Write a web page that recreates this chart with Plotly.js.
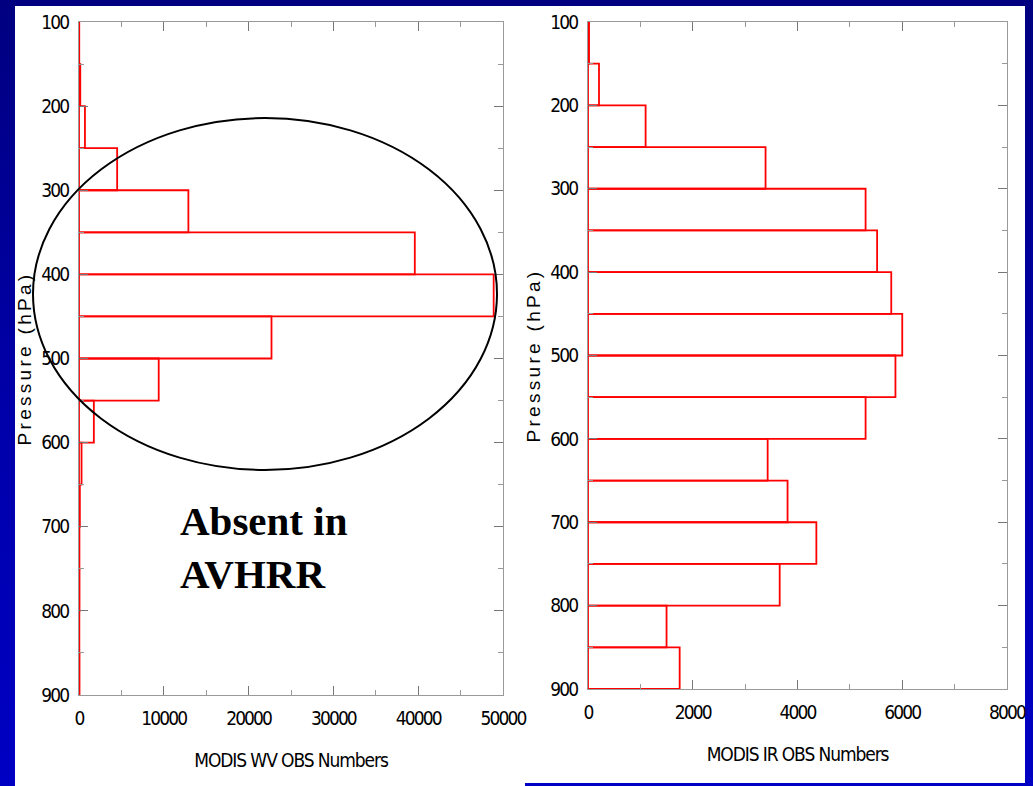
<!DOCTYPE html>
<html>
<head>
<meta charset="utf-8">
<script src="https://cdn.plot.ly/plotly-3.0.1.min.js"></script>
<style>
  html, body { margin: 0; padding: 0; }
  body { width: 1033px; height: 786px; overflow: hidden;
         background: linear-gradient(to bottom, #000080 0%, #0000a8 50%, #0000c4 100%); }
  #chart { width: 1033px; height: 786px; }
  .xtick text, .x2tick text, .ytick text, .y2tick text { letter-spacing: -1.9px; }
  .g-xtitle text, .g-x2title text { letter-spacing: -1.1px; }
  .g-ytitle text, .g-y2title text { letter-spacing: 3.3px; }
</style>
</head>
<body>
<div id="chart"></div>
<script>
// Pressure bins (hPa), bin centres of 50-hPa layers from 100 to 900
const pressureBins = [125, 175, 225, 275, 325, 375, 425, 475, 525, 575, 625, 675, 725, 775, 825, 875];
// MODIS WV observation counts per bin
const wvCounts = [30, 150, 700, 4500, 12900, 39600, 48900, 22700, 9400, 1750, 300, 100, 50, 60, 40, 60];
// MODIS IR observation counts per bin
const irCounts = [20, 210, 1100, 3390, 5300, 5520, 5790, 6000, 5870, 5300, 3430, 3810, 4360, 3660, 1500, 1750];

const pressureTicks = [100, 200, 300, 400, 500, 600, 700, 800, 900];
const wvTicks = [0, 10000, 20000, 30000, 40000, 50000];
const irTicks = [0, 2000, 4000, 6000, 8000];

const W = 1033, H = 786;
const px = v => v / W;
const py = v => 1 - v / H;

const narrow = "DejaVu Sans Condensed, Liberation Sans Narrow, Arial Narrow, sans-serif";
const tickFont = {family: narrow, size: 19, color: '#000'};
const axisGray = '#9a9a9a';

function xAxis(domain, rng, ticks, title) {
  return {
    domain: domain, range: rng, tickvals: ticks, ticktext: ticks.map(String),
    showline: true, linecolor: axisGray, linewidth: 1, mirror: 'ticks',
    ticks: 'inside', ticklen: 9, tickcolor: '#777', tickwidth: 1,
    minor: {tickvals: ticks.slice(0, -1).map((t, i) => (t + ticks[i + 1]) / 2), ticks: 'inside', ticklen: 5, tickcolor: '#999'},
    showgrid: false, zeroline: false, tickfont: tickFont, ticklabelstandoff: 6,
    title: {text: title, font: {family: narrow, size: 19, color: '#000'}, standoff: 25},
    fixedrange: true
  };
}
function yAxis(domain, anchor) {
  return {
    domain: domain, range: [900, 100], tickvals: pressureTicks, ticktext: pressureTicks.map(String),
    anchor: anchor,
    showline: true, linecolor: axisGray, linewidth: 1, mirror: 'ticks',
    ticks: 'inside', ticklen: 9, tickcolor: '#777', tickwidth: 1,
    minor: {tickvals: pressureTicks.slice(0, -1).map(t => t + 50), ticks: 'inside', ticklen: 5, tickcolor: '#999'},
    showgrid: false, zeroline: false, tickfont: tickFont, ticklabelstandoff: 6,
    title: {text: 'Pressure (hPa)', font: {family: 'Liberation Sans, Arial, sans-serif', size: 19, color: '#000'}, standoff: 4},
    fixedrange: true
  };
}

const barStyle = {color: 'rgba(255,255,255,0)', line: {color: 'rgb(255,0,0)', width: 1.8}};

const traces = [
  {type: 'bar', orientation: 'h', x: wvCounts, y: pressureBins, width: 50,
   marker: barStyle, xaxis: 'x', yaxis: 'y', hoverinfo: 'x+y', showlegend: false},
  {type: 'bar', orientation: 'h', x: irCounts, y: pressureBins, width: 50,
   marker: barStyle, xaxis: 'x2', yaxis: 'y2', hoverinfo: 'x+y', showlegend: false}
];

const layout = {
  width: W, height: H,
  margin: {l: 0, r: 0, t: 0, b: 0},
  paper_bgcolor: 'rgba(0,0,0,0)', plot_bgcolor: 'rgba(0,0,0,0)',
  showlegend: false, bargap: 0,
  xaxis: xAxis([px(79), px(503)], [0, 50000], wvTicks, 'MODIS WV OBS Numbers'),
  yaxis: yAxis([py(695), py(22)], 'x'),
  xaxis2: Object.assign(xAxis([px(588), px(1007)], [0, 8000], irTicks, 'MODIS IR OBS Numbers'), {anchor: 'y2'}),
  yaxis2: yAxis([py(689), py(22)], 'x2'),
  shapes: [
    {type: 'rect', xref: 'paper', yref: 'paper', x0: px(15), x1: px(1025), y0: py(786), y1: py(6),
     fillcolor: '#ffffff', line: {width: 0}, layer: 'below'},
    {type: 'rect', xref: 'paper', yref: 'paper', x0: px(525), x1: px(1033), y0: py(786), y1: py(783),
     fillcolor: '#0000c4', line: {width: 0}, layer: 'below'},
    {type: 'circle', xref: 'paper', yref: 'paper', x0: px(33), x1: px(497), y0: py(470), y1: py(118),
     line: {color: '#000', width: 2}, fillcolor: 'rgba(0,0,0,0)', layer: 'above'}
  ],
  annotations: [
    {xref: 'paper', yref: 'paper', x: px(178), y: py(547), xanchor: 'left', yanchor: 'middle',
     text: '<b>Absent in</b><br><b>AVHRR</b>', align: 'left', showarrow: false,
     font: {family: 'Liberation Serif, Times New Roman, serif', size: 41, color: '#000'}}
  ]
};

Plotly.newPlot('chart', traces, layout, {displayModeBar: false, staticPlot: true});
</script>
</body>
</html>
